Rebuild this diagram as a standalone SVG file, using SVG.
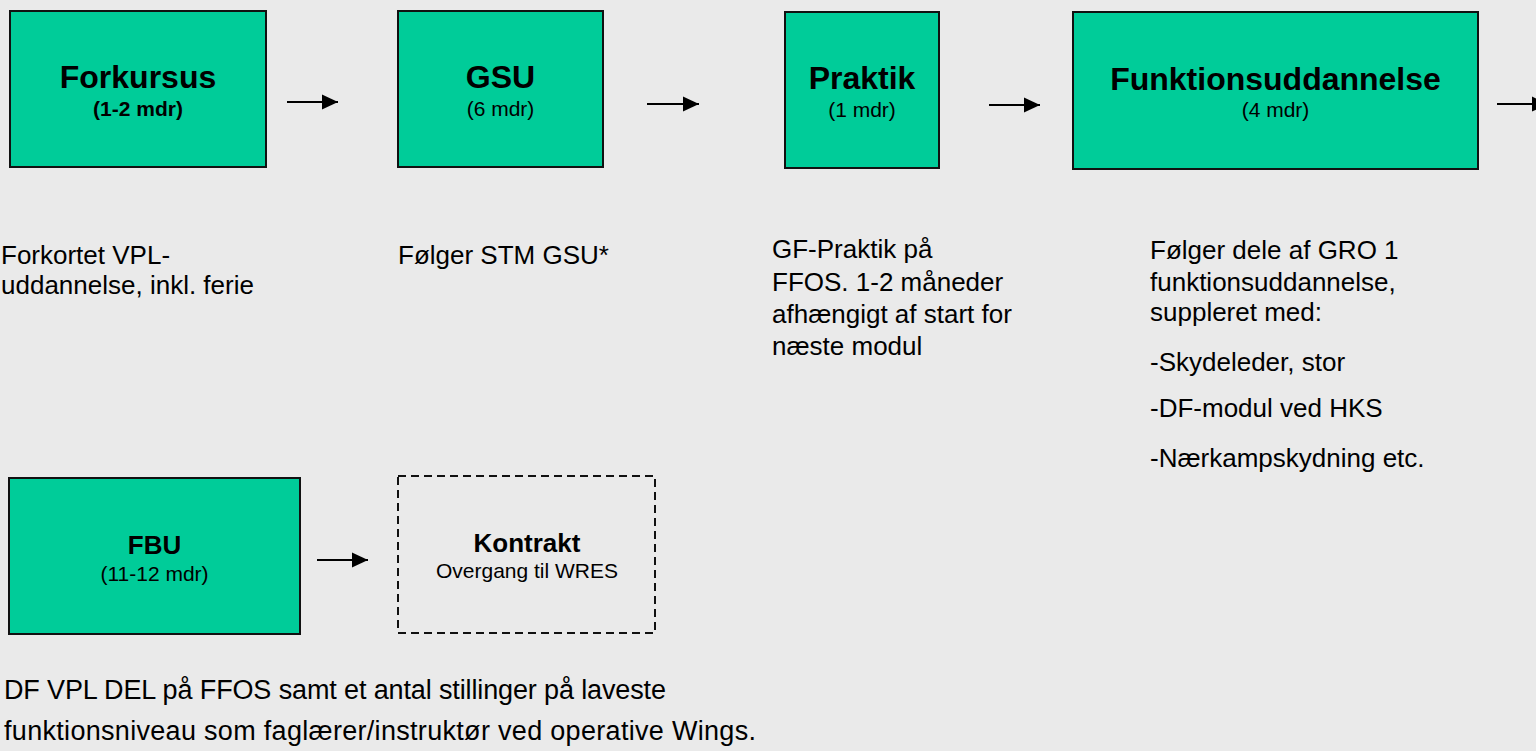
<svg xmlns="http://www.w3.org/2000/svg" width="1536" height="751" viewBox="0 0 1536 751">
<style>
.box{fill:#00CC99;stroke:#111;stroke-width:2}
.dash{fill:none;stroke:#111;stroke-width:2;stroke-dasharray:8,5}
.t{font-family:"Liberation Sans",Arial,sans-serif;fill:#000}
.h{font-size:32px;font-weight:bold;text-anchor:middle}
.h2{font-size:26px;font-weight:bold;text-anchor:middle}
.s{font-size:21px;text-anchor:middle}
.sb{font-size:21px;font-weight:bold;text-anchor:middle}
.b{font-size:26px}
.bb{font-size:27px}
.c{stroke:#000;stroke-width:2;fill:none}
</style>
<defs>
<marker id="ah" markerUnits="userSpaceOnUse" markerWidth="16" markerHeight="16" viewBox="0 0 16 16" refX="16" refY="8" orient="auto">
<path d="M0,0.5 L16,8 L0,15.5 Z" fill="#000"/>
</marker>
</defs>
<rect width="1536" height="751" fill="#EAEAEA"/>
<g id="forkursus">
<rect class="box" x="10" y="11" width="256" height="156"/>
<text class="t h" x="138" y="88">Forkursus</text>
<text class="t sb" x="138" y="116">(1-2 mdr)</text>
</g>
<g id="gsu">
<rect class="box" x="398" y="11" width="205" height="156"/>
<text class="t h" x="500.5" y="88">GSU</text>
<text class="t s" x="500.5" y="116">(6 mdr)</text>
</g>
<g id="praktik">
<rect class="box" x="785" y="12" width="154" height="156"/>
<text class="t h" x="862" y="89">Praktik</text>
<text class="t s" x="862" y="117">(1 mdr)</text>
</g>
<g id="funktionsuddannelse">
<rect class="box" x="1073" y="12" width="405" height="157"/>
<text class="t h" x="1275.5" y="90">Funktionsuddannelse</text>
<text class="t s" x="1275.5" y="117">(4 mdr)</text>
</g>
<g id="fbu">
<rect class="box" x="9" y="478" width="291" height="156"/>
<text class="t h2" x="154.5" y="554">FBU</text>
<text class="t s" x="154.5" y="581">(11-12 mdr)</text>
</g>
<g id="kontrakt">
<rect class="dash" x="398" y="476" width="257" height="157"/>
<text class="t h2" x="527" y="552">Kontrakt</text>
<text class="t s" x="527" y="578">Overgang til WRES</text>
</g>
<g id="connectors">
<line class="c" x1="287" y1="102" x2="338" y2="102" marker-end="url(#ah)"/>
<line class="c" x1="647" y1="104" x2="699" y2="104" marker-end="url(#ah)"/>
<line class="c" x1="989" y1="105" x2="1040" y2="105" marker-end="url(#ah)"/>
<line class="c" x1="1497" y1="104" x2="1548" y2="104" marker-end="url(#ah)"/>
<line class="c" x1="317" y1="560" x2="368" y2="560" marker-end="url(#ah)"/>
</g>
<g id="notes">
<text class="t b" x="1" y="264">Forkortet VPL-</text>
<text class="t b" x="1" y="294">uddannelse, inkl. ferie</text>
<text class="t b" x="398" y="264">Følger STM GSU*</text>
<text class="t b" x="772" y="258">GF-Praktik på</text>
<text class="t b" x="772" y="290.5">FFOS. 1-2 måneder</text>
<text class="t b" x="772" y="322.5">afhængigt af start for</text>
<text class="t b" x="772" y="354.5">næste modul</text>
<text class="t b" x="1150" y="259">Følger dele af GRO 1</text>
<text class="t b" x="1150" y="291">funktionsuddannelse,</text>
<text class="t b" x="1150" y="321">suppleret med:</text>
<text class="t b" x="1150" y="371">-Skydeleder, stor</text>
<text class="t b" x="1150" y="417">-DF-modul ved HKS</text>
<text class="t b" x="1150" y="467">-Nærkampskydning etc.</text>
<text class="t bb" x="4" y="699" textLength="662">DF VPL DEL på FFOS samt et antal stillinger på laveste</text>
<text class="t bb" x="4" y="740" textLength="752">funktionsniveau som faglærer/instruktør ved operative Wings.</text>
</g>
</svg>
